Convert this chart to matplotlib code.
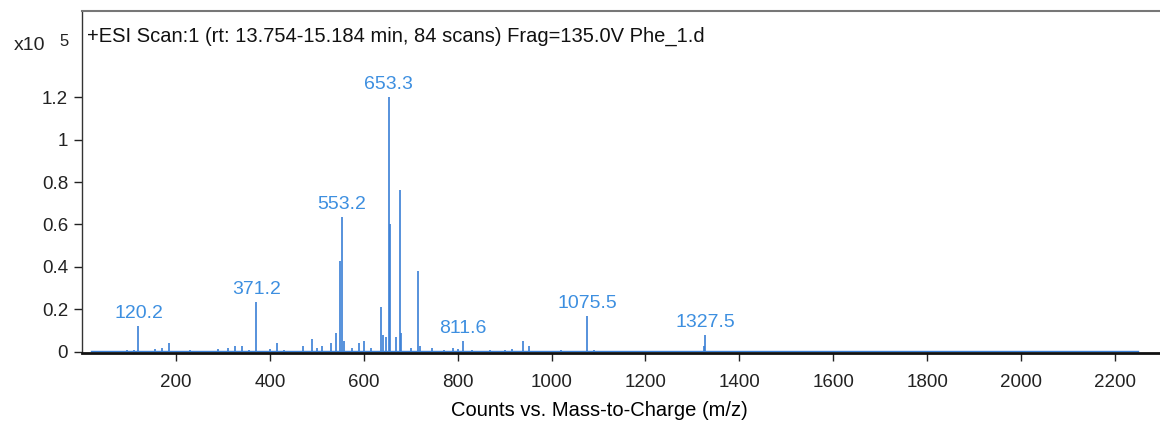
import matplotlib
matplotlib.use("Agg")
import matplotlib.pyplot as plt
import numpy as np

plt.rcParams['font.family'] = ['Liberation Sans', 'DejaVu Sans']

# stick peaks (m/z, counts in units of 1e5)
peak_mz = [95, 110, 120.2, 155, 170, 185, 230, 290, 310, 325, 340, 355, 371.2,
           400, 415, 430, 470, 490, 500, 512, 530, 540, 549, 553.2, 558, 575,
           590, 600, 615, 637, 641, 648, 653.3, 655, 668, 677, 680, 700, 715,
           720, 745, 770, 790, 800, 811.6, 830, 870, 900, 915, 940, 953, 1000,
           1020, 1050, 1075.5, 1090, 1120, 1140, 1325, 1327.5]
peak_int = [0.008, 0.01, 0.12, 0.015, 0.018, 0.04, 0.008, 0.012, 0.02, 0.03, 0.03,
            0.01, 0.235, 0.015, 0.04, 0.01, 0.03, 0.06, 0.02, 0.03, 0.04, 0.09,
            0.43, 0.635, 0.05, 0.02, 0.04, 0.05, 0.02, 0.21, 0.08, 0.07, 1.2, 0.6,
            0.07, 0.76, 0.09, 0.02, 0.38, 0.03, 0.02, 0.01, 0.02, 0.015, 0.05,
            0.01, 0.008, 0.01, 0.015, 0.05, 0.03, 0.005, 0.008, 0.005, 0.17, 0.01,
            0.005, 0.004, 0.03, 0.08]

# labelled peaks
label_mz = [120.2, 371.2, 553.2, 653.3, 811.6, 1075.5, 1327.5]
label_int = [0.12, 0.235, 0.635, 1.2, 0.05, 0.17, 0.08]

scan_range = [20, 2250]
baseline = 0.003

line_color = '#3a7fd6'
label_color = '#3d8fe0'

fig = plt.figure(figsize=(11.6, 4.24), dpi=100)
ax = fig.add_axes([0.0707, 0.1675, 0.9293, 0.8065])

ax.plot(scan_range, [baseline, baseline], color=line_color, lw=1.0)
ax.vlines(peak_mz, 0, peak_int, color=line_color, lw=1.2)

for mz, h in zip(label_mz, label_int):
    ax.annotate(f'{mz:.1f}', (mz, h), xytext=(0, 3), textcoords='offset points',
                ha='center', va='bottom', color=label_color, fontsize=14)

ax.set_xlim(0, 2296)
ax.set_ylim(-0.005, 1.605)
ax.set_xticks(np.arange(200, 2201, 200))
ax.set_yticks([0, 0.2, 0.4, 0.6, 0.8, 1.0, 1.2])
ax.set_yticklabels(['0', '0.2', '0.4', '0.6', '0.8', '1', '1.2'])
ax.tick_params(axis='both', direction='out', length=6, width=1, labelsize=13.5,
               colors='#222222')
ax.tick_params(axis='x', pad=9)
ax.tick_params(axis='y', pad=4)

ax.spines['right'].set_visible(False)
ax.spines['top'].set_color('#777777')
ax.spines['top'].set_linewidth(1.5)
ax.spines['left'].set_color('#333333')
ax.spines['left'].set_linewidth(1.0)
ax.spines['bottom'].set_color('#111111')
ax.spines['bottom'].set_linewidth(2.0)

ax.set_xlabel('Counts vs. Mass-to-Charge (m/z)', fontsize=14.5)
ax.xaxis.set_label_coords(0.48, -0.14)

ax.text(0.005, 0.955, '+ESI Scan:1 (rt: 13.754-15.184 min, 84 scans) Frag=135.0V Phe_1.d',
        transform=ax.transAxes, fontsize=14.5, va='top', ha='left', color='#111111')

fig.text(0.012, 0.893, 'x10', fontsize=14, ha='left', va='center', color='#222222')
fig.text(0.051, 0.903, '5', fontsize=12, ha='left', va='center', color='#222222')

plt.savefig('out.png', dpi=100)
